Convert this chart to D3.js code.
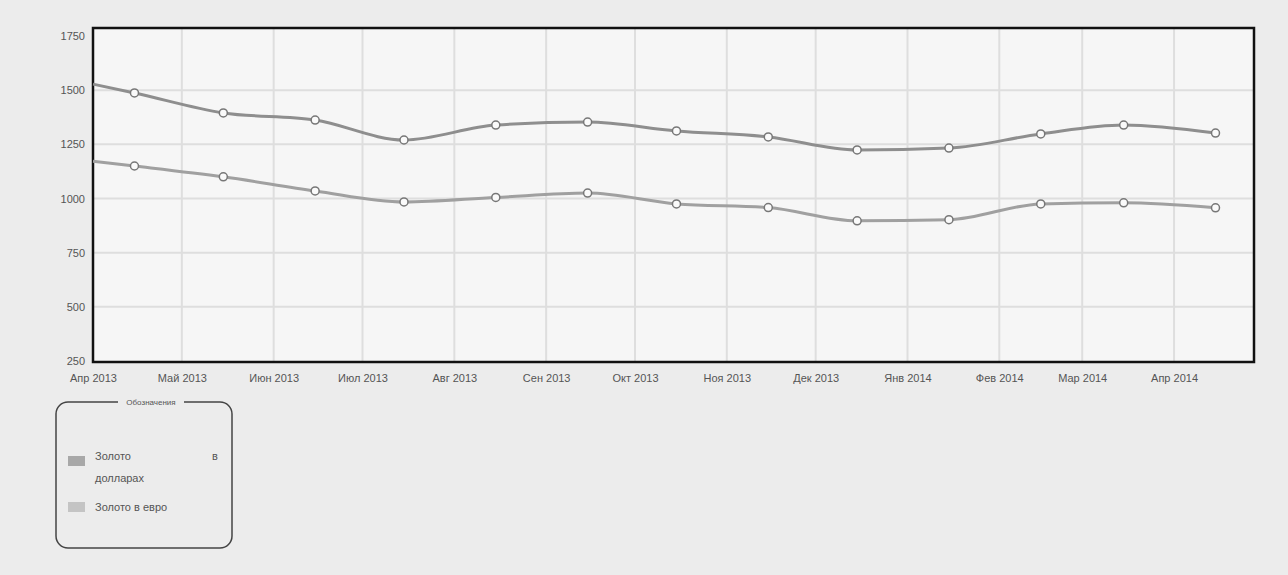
<html lang="ru">

<head>
  <meta charset="utf-8">
  <title>Золото</title>
  <script src="https://cdn.jsdelivr.net/npm/d3@7"></script>
  <style>
    body { margin: 0; background: #ececec; }
    text { font-family: "Liberation Sans", Arial, sans-serif; }
  </style>
</head>

<body>
  <svg width="1288" height="575"></svg>
  <script>
    // даты точек (середина месяца + начало периода)
    const dates = ["2013-04-01", "2013-04-15", "2013-05-15", "2013-06-15", "2013-07-15", "2013-08-15",
      "2013-09-15", "2013-10-15", "2013-11-15", "2013-12-15", "2014-01-15", "2014-02-15",
      "2014-03-15", "2014-04-15"];
    const goldUsd = [1528, 1487, 1395, 1362, 1270, 1339, 1353, 1312, 1284, 1224, 1233, 1298, 1339, 1302];
    const goldEur = [1172, 1150, 1100, 1035, 984, 1005, 1025, 975, 958, 897, 902, 975, 980, 957];
    const monthNames = ["Янв", "Фев", "Мар", "Апр", "Май", "Июн", "Июл", "Авг", "Сен", "Окт", "Ноя", "Дек"];
    const yTicks = [250, 500, 750, 1000, 1250, 1500, 1750];
    const seriesNames = ["Золото в долларах", "Золото в евро"];

    const parse = d3.timeParse("%Y-%m-%d");
    const svg = d3.select("svg");

    const plotL = 93, plotR = 1254, plotT = 28, plotB = 362;

    const x = d3.scaleTime()
      .domain([parse("2013-04-01"), parse("2014-04-28")])
      .range([plotL, plotR]);

    const y = d3.scaleLinear()
      .domain([250, 1750])
      .range([361, 36]);

    // фон области графика
    svg.append("rect")
      .attr("x", plotL).attr("y", plotT)
      .attr("width", plotR - plotL).attr("height", plotB - plotT)
      .attr("fill", "#f6f6f6");

    const months = x.ticks(d3.timeMonth.every(1));

    // сетка
    svg.append("g")
      .selectAll("line")
      .data(yTicks.slice(1, -1))
      .enter()
      .append("line")
      .attr("x1", plotL).attr("x2", plotR)
      .attr("y1", d => y(d)).attr("y2", d => y(d))
      .attr("stroke", "#dedede")
      .attr("stroke-width", 2);

    svg.append("g")
      .selectAll("line")
      .data(months.slice(1))
      .enter()
      .append("line")
      .attr("x1", d => x(d)).attr("x2", d => x(d))
      .attr("y1", plotT).attr("y2", plotB)
      .attr("stroke", "#dedede")
      .attr("stroke-width", 2);

    // оси
    const yAxis = svg.append("g")
      .attr("transform", `translate(${plotL},0)`)
      .call(d3.axisLeft(y).tickValues(yTicks).tickSize(0).tickPadding(8).tickFormat(d3.format("d")));
    yAxis.select(".domain").remove();
    yAxis.selectAll("text")
      .attr("font-size", 11)
      .attr("fill", "#555");

    const xAxis = svg.append("g")
      .attr("transform", `translate(0,${plotB})`)
      .call(d3.axisBottom(x)
        .tickValues(months)
        .tickSize(0)
        .tickPadding(12)
        .tickFormat(d => monthNames[d.getMonth()] + " " + d.getFullYear()));
    xAxis.select(".domain").remove();
    xAxis.selectAll("text")
      .attr("font-size", 11)
      .attr("fill", "#555");

    // рамка
    svg.append("rect")
      .attr("x", plotL).attr("y", plotT)
      .attr("width", plotR - plotL).attr("height", plotB - plotT)
      .attr("fill", "none")
      .attr("stroke", "#111")
      .attr("stroke-width", 2.5);

    // линии
    const series = [
      { name: seriesNames[0], values: goldUsd, color: "#8e8e8e" },
      { name: seriesNames[1], values: goldEur, color: "#a0a0a0" }
    ];

    const line = d3.line()
      .x((d, i) => x(parse(dates[i])))
      .y(d => y(d))
      .curve(d3.curveMonotoneX);

    series.forEach(s => {
      svg.append("path")
        .datum(s.values)
        .attr("fill", "none")
        .attr("stroke", s.color)
        .attr("stroke-width", 3)
        .attr("d", line);

      svg.append("g")
        .selectAll("circle")
        .data(s.values.slice(1))
        .enter()
        .append("circle")
        .attr("cx", (d, i) => x(parse(dates[i + 1])))
        .attr("cy", d => y(d))
        .attr("r", 4)
        .attr("fill", "#fafafa")
        .attr("stroke", "#777")
        .attr("stroke-width", 1.5);
    });

    // легенда
    const lg = svg.append("g");
    lg.append("rect")
      .attr("x", 56).attr("y", 402)
      .attr("width", 176).attr("height", 146)
      .attr("rx", 12)
      .attr("fill", "none")
      .attr("stroke", "#444")
      .attr("stroke-width", 1.5);
    lg.append("rect")
      .attr("x", 118).attr("y", 396)
      .attr("width", 66).attr("height", 12)
      .attr("fill", "#ececec");
    lg.append("text")
      .attr("x", 151).attr("y", 405)
      .attr("text-anchor", "middle")
      .attr("font-size", 8)
      .attr("fill", "#555")
      .text("Обозначения");

    lg.append("rect")
      .attr("x", 68).attr("y", 456).attr("width", 17).attr("height", 10)
      .attr("fill", "#a8a8a8");
    lg.append("text")
      .attr("x", 95).attr("y", 460)
      .attr("font-size", 11).attr("fill", "#555")
      .text("Золото");
    lg.append("text")
      .attr("x", 212).attr("y", 460)
      .attr("font-size", 11).attr("fill", "#555")
      .text("в");
    lg.append("text")
      .attr("x", 95).attr("y", 482)
      .attr("font-size", 11).attr("fill", "#555")
      .text("долларах");

    lg.append("rect")
      .attr("x", 68).attr("y", 502).attr("width", 17).attr("height", 10)
      .attr("fill", "#c4c4c4");
    lg.append("text")
      .attr("x", 95).attr("y", 511)
      .attr("font-size", 11).attr("fill", "#555")
      .text("Золото в евро");
  </script>
</body>

</html>
